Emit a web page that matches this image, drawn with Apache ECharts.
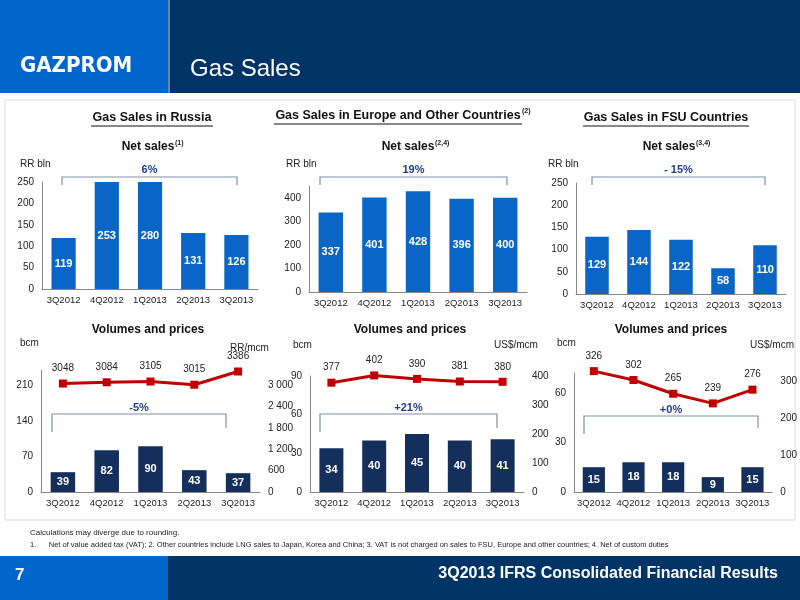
<!DOCTYPE html>
<html>
<head>
<meta charset="utf-8">
<script src="https://cdn.jsdelivr.net/npm/echarts@6/dist/echarts.min.js"></script>
<style>html,body{margin:0;padding:0;background:#fff}#c{width:800px;height:600px}</style>
</head>
<body>
<div id="c"></div>
<script>
const quarters = ['3Q2012', '4Q2012', '1Q2013', '2Q2013', '3Q2013'];
// net sales
const russiaSales = [119, 253, 280, 131, 126];
const europeSales = [337, 401, 428, 396, 400];
const fsuSales = [129, 144, 122, 58, 110];
// volumes (bcm) and prices
const russiaVol = [39, 82, 90, 43, 37];
const russiaPrice = [3048, 3084, 3105, 3015, 3386];
const europeVol = [34, 40, 45, 40, 41];
const europePrice = [377, 402, 390, 381, 380];
const fsuVol = [15, 18, 18, 9, 15];
const fsuPrice = [326, 302, 265, 239, 276];

const FONT = 'Liberation Sans';
const BLUE = '#0a66c6', NAVY = '#142f5c', RED = '#c00000';
const chart = echarts.init(document.getElementById('c'));

const grids = [
  {left: 42, width: 216, top: 182, height: 107},
  {left: 309, width: 218, top: 186, height: 106},
  {left: 576, width: 210, top: 183, height: 111},
  {left: 41, width: 219, top: 370, height: 122},
  {left: 310, width: 214, top: 376, height: 116},
  {left: 574, width: 204, top: 373, height: 119}
];

const axLabel = {fontFamily: FONT, fontSize: 10, color: '#222'};
function xAx(i) {
  return {type: 'category', gridIndex: i, data: quarters,
    axisLine: {lineStyle: {color: '#888'}}, axisTick: {show: false},
    axisLabel: Object.assign({margin: 6, interval: 0}, axLabel, {fontSize: 9.5})};
}
function yAx(i, max, interval, pos, fmt) {
  return {type: 'value', gridIndex: i, min: 0, max: max, interval: interval, position: pos || 'left',
    splitLine: {show: false}, axisLine: {show: pos !== 'right', lineStyle: {color: '#888'}},
    axisTick: {show: false},
    axisLabel: Object.assign({showMaxLabel: max % interval === 0, formatter: fmt}, axLabel)};
}
const spaceFmt = v => v >= 1000 ? Math.floor(v / 1000) + ' ' + String(v % 1000).padStart(3, '0') : v;

const barLabel = {show: true, position: 'inside', color: '#fff', fontFamily: FONT, fontWeight: 'bold', fontSize: 11};
function bar(x, y, data, color) {
  return {type: 'bar', xAxisIndex: x, yAxisIndex: y, data: data, barWidth: '56%',
    itemStyle: {color: color}, label: barLabel, clip: true};
}
function line(x, y, data) {
  return {type: 'line', xAxisIndex: x, yAxisIndex: y, data: data, clip: false,
    symbol: 'rect', symbolSize: 8, lineStyle: {color: RED, width: 3}, itemStyle: {color: RED},
    label: {show: true, position: 'top', distance: 6, color: '#222', fontFamily: FONT, fontSize: 10}};
}

function txt(x, y, t, o) {
  return {type: 'text', x: x, y: y, style: Object.assign({text: t, fontFamily: FONT, fontSize: 10, fill: '#222'}, o || {})};
}
function bracket(x1, x2, y, d1, d2, label, ly) {
  return [
    {type: 'polyline', shape: {points: [[x1, y + d1], [x1, y], [x2, y], [x2, y + d2]]},
      style: {stroke: '#7f8fa6', lineWidth: 1.2, fill: null}},
    txt((x1 + x2) / 2, ly, label, {align: 'center', fontWeight: 'bold', fontSize: 11, fill: '#1f3c88'})
  ];
}
function title(x, y, t, w) {
  return [txt(x, y, t, {align: 'center', fontWeight: 'bold', fontSize: 12.5, fill: '#111'}),
    {type: 'line', shape: {x1: x - w / 2, y1: y + 15, x2: x + w / 2, y2: y + 15}, style: {stroke: '#111', lineWidth: 1}}];
}

const graphic = [
  {type: 'rect', shape: {x: 0, y: 0, width: 800, height: 93}, style: {fill: '#003466'}},
  {type: 'rect', shape: {x: 0, y: 0, width: 168, height: 93}, style: {fill: '#0066cc'}},
  {type: 'line', shape: {x1: 169, y1: 0, x2: 169, y2: 93}, style: {stroke: '#cfd8e6', lineWidth: 1}},
  txt(20, 55, 'GAZPROM', {fontSize: 22, fontWeight: 'bold', fill: '#fff', fontFamily: 'DejaVu Sans Condensed'}),
  txt(190, 57, 'Gas Sales', {fontSize: 24, fill: '#fff'}),
  {type: 'rect', shape: {x: 5, y: 100, width: 790, height: 420}, style: {fill: null, stroke: '#ddd'}},
  ...title(152, 111, 'Gas Sales in Russia', 122),
  ...title(398, 109, 'Gas Sales in Europe and Other Countries', 248),
  txt(522, 108, '(2)', {fontSize: 7, fontWeight: 'bold', fill: '#111'}),
  ...title(666, 111, 'Gas Sales in FSU Countries', 166),
  txt(148, 141, 'Net sales', {align: 'center', fontWeight: 'bold', fontSize: 12, fill: '#111'}),
  txt(175, 140, '(1)', {fontSize: 7, fontWeight: 'bold'}),
  txt(408, 141, 'Net sales', {align: 'center', fontWeight: 'bold', fontSize: 12, fill: '#111'}),
  txt(435, 140, '(2,4)', {fontSize: 7, fontWeight: 'bold'}),
  txt(669, 141, 'Net sales', {align: 'center', fontWeight: 'bold', fontSize: 12, fill: '#111'}),
  txt(696, 140, '(3,4)', {fontSize: 7, fontWeight: 'bold'}),
  txt(148, 324, 'Volumes and prices', {align: 'center', fontWeight: 'bold', fontSize: 12, fill: '#111'}),
  txt(410, 324, 'Volumes and prices', {align: 'center', fontWeight: 'bold', fontSize: 12, fill: '#111'}),
  txt(671, 324, 'Volumes and prices', {align: 'center', fontWeight: 'bold', fontSize: 12, fill: '#111'}),
  txt(20, 159, 'RR bln'), txt(286, 159, 'RR bln'), txt(548, 159, 'RR bln'),
  txt(20, 338, 'bcm'), txt(230, 343, 'RR/mcm'), txt(293, 340, 'bcm'), txt(494, 340, 'US$/mcm'),
  txt(557, 338, 'bcm'), txt(794, 340, 'US$/mcm', {align: 'right'}),
  ...bracket(62, 237, 177, 8, 8, '6%', 164),
  ...bracket(320, 507, 177, 8, 8, '19%', 164),
  ...bracket(592, 765, 177, 8, 8, '- 15%', 164),
  ...bracket(52, 226, 414, 18, 14, '-5%', 402),
  ...bracket(320, 497, 414, 18, 14, '+21%', 402),
  ...bracket(584, 758, 416, 18, 12, '+0%', 404),
  txt(30, 529, 'Calculations may diverge due to rounding.', {fontSize: 8}),
  txt(30, 541, '1.      Net of value added tax (VAT); 2. Other countries include LNG sales to Japan, Korea and China; 3. VAT is not charged on sales to FSU, Europe and other countries; 4. Net of custom duties', {fontSize: 7.5}),
  {type: 'rect', shape: {x: 0, y: 556, width: 800, height: 44}, style: {fill: '#003466'}},
  {type: 'rect', shape: {x: 0, y: 556, width: 168, height: 44}, style: {fill: '#0066cc'}},
  txt(15, 567, '7', {fontSize: 17, fontWeight: 'bold', fill: '#fff'}),
  txt(778, 566, '3Q2013 IFRS Consolidated Financial Results', {align: 'right', fontSize: 16, fontWeight: 'bold', fill: '#fff'})
];

chart.setOption({
  animation: false,
  textStyle: {fontFamily: FONT},
  grid: grids,
  xAxis: [0, 1, 2, 3, 4, 5].map(xAx),
  yAxis: [
    yAx(0, 250, 50), yAx(1, 450, 100), yAx(2, 250, 50),
    yAx(3, 240, 70), yAx(4, 90, 30), yAx(5, 72, 30),
    yAx(3, 240 / 210 * 3000, 600, 'right', spaceFmt),
    yAx(4, 400, 100, 'right'),
    yAx(5, 72 * 300 / 67.3, 100, 'right')
  ],
  series: [
    bar(0, 0, russiaSales, BLUE), bar(1, 1, europeSales, BLUE), bar(2, 2, fsuSales, BLUE),
    bar(3, 3, russiaVol, NAVY), bar(4, 4, europeVol, NAVY), bar(5, 5, fsuVol, NAVY),
    line(3, 6, russiaPrice), line(4, 7, europePrice), line(5, 8, fsuPrice)
  ],
  graphic: graphic
});
</script>
</body>
</html>
